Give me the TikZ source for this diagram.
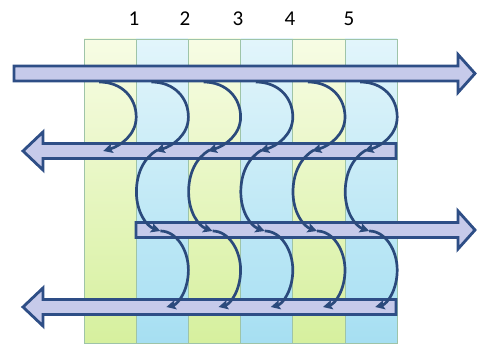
\documentclass[tikz,border=0pt]{standalone}
\usepackage{fontspec}
\setmainfont{Carlito}
\usetikzlibrary{arrows.meta}

\definecolor{bandfill}{HTML}{C6CAEA}
\definecolor{bandline}{HTML}{2E4E86}
\definecolor{waveline}{HTML}{2B4A7C}
\definecolor{yeltop}{HTML}{F7FCE4}
\definecolor{yelbot}{HTML}{D6F09E}
\definecolor{blutop}{HTML}{E2F5FB}
\definecolor{blubot}{HTML}{A6DFF2}
\definecolor{colline}{HTML}{9EC4A8}

\tikzset{
  band/.style={draw=bandline, fill=bandfill, line width=2.4pt, line join=miter},
  wave/.style={draw=waveline, line width=2.3pt, -{Stealth[length=8pt,width=8pt,inset=1.5pt]}},
  yelcol/.style={top color=yeltop, bottom color=yelbot, draw=colline, line width=0.6pt},
  blucol/.style={top color=blutop, bottom color=blubot, draw=colline, line width=0.6pt},
  numlabel/.style={font=\fontsize{18}{20}\selectfont, inner sep=0pt},
}

% band arrow pointing right: x start, x tip, y
\newcommand{\rightband}[3]{%
  \draw[band] (#1,#3-7.5) -- (#2-17,#3-7.5) -- (#2-17,#3-19) -- (#2,#3)
    -- (#2-17,#3+19) -- (#2-17,#3+7.5) -- (#1,#3+7.5) -- cycle;}
% band arrow pointing left: x tip, x end, y
\newcommand{\leftband}[3]{%
  \draw[band] (#2,#3-7.5) -- (#1+20,#3-7.5) -- (#1+20,#3-19) -- (#1,#3)
    -- (#1+20,#3+19) -- (#1+20,#3+7.5) -- (#2,#3+7.5) -- cycle;}

\begin{document}
\begin{tikzpicture}[x=0.03cm, y=-0.03cm]
  \useasboundingbox (0,0) rectangle (478,347);

  % stages
  \foreach \i/\sty in {0/yelcol,1/blucol,2/yelcol,3/blucol,4/yelcol,5/blucol} {
    \draw[\sty] ({84+52.2*\i},39) rectangle ({136.2+52.2*\i},343);
  }
  \foreach \n/\x in {1/134,2/185,3/238,4/290,5/349} {
    \node[numlabel] (lab\n) at (\x,19) {\n};
  }

  % streams
  \rightband{14}{475}{73.5}
  \leftband{23}{396}{151}
  \rightband{136}{475}{230}
  \leftband{23}{396}{307}

  % transfers
  \foreach \i in {0,...,5} {
    \pgfmathsetmacro{\r}{136.2+52.2*\i}
    \draw[wave] (\r-37,82) .. controls (\r-14,82) and (\r,98) .. (\r,117)
      .. controls (\r,135) and (\r-16,146) .. (\r-33,151);
  }
  \foreach \i in {1,...,5} {
    \pgfmathsetmacro{\r}{136.2+52.2*\i}
    \draw[wave] (\r-31,150) .. controls (\r-45,158) and (\r-52,174) .. (\r-52,192)
      .. controls (\r-52,212) and (\r-42,226) .. (\r-28,231);
    \draw[wave] (\r-28,231) .. controls (\r-12,231) and (\r,250) .. (\r,270)
      .. controls (\r,290) and (\r-10,304) .. (\r-22,307);
  }
\end{tikzpicture}
\end{document}
